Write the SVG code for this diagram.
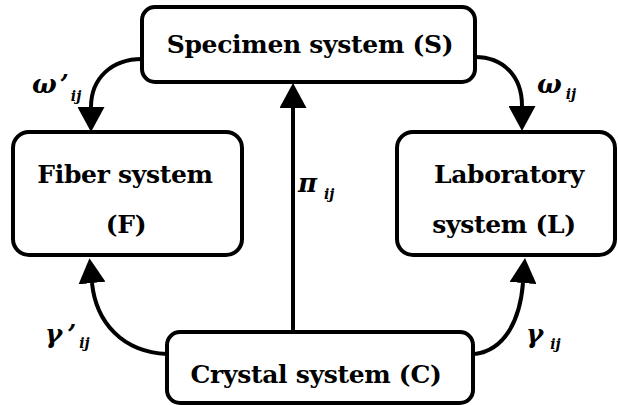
<svg xmlns="http://www.w3.org/2000/svg" width="618" height="405" viewBox="0 0 618 405" font-family="DejaVu Serif, serif">
<style>
.box{fill:#ffffff;stroke:#000;stroke-width:4}
.t{font-weight:bold;font-size:25px;letter-spacing:-0.3px;fill:#000;text-anchor:middle}
.g{font-weight:bold;font-style:italic;font-size:26px;fill:#000}
.s{font-size:14px}
.c{fill:none;stroke:#000;stroke-width:4}
</style>
<defs>
<marker id="ah" viewBox="0 0 25 27" refX="0" refY="13.5" markerWidth="25" markerHeight="27" markerUnits="userSpaceOnUse" orient="auto">
<path d="M0,0 L25,13.5 L0,27 z" fill="#000"/>
</marker>
</defs>
<rect width="618" height="405" fill="#fff"/>
<g id="connectors">
<path class="c" d="M142,59 C112,59 91,78 91,107" marker-end="url(#ah)"/>
<path class="c" d="M475,57 C503,57 522,76 522,106" marker-end="url(#ah)"/>
<path class="c" d="M167,354 C122,352 96,322 92,283" marker-end="url(#ah)"/>
<path class="c" d="M475,354 C505,350 520,320 523,283" marker-end="url(#ah)"/>
<path class="c" d="M293,332 L293,108" marker-end="url(#ah)"/>
</g>
<g id="specimen">
<rect class="box" x="142" y="7" width="333" height="75" rx="13"/>
<text class="t" x="310" y="53">Specimen system (S)</text>
</g>
<g id="fiber">
<rect class="box" x="13" y="132" width="229" height="123" rx="16"/>
<text class="t" x="125" y="183">Fiber system</text>
<text class="t" x="126" y="233">(F)</text>
</g>
<g id="laboratory">
<rect class="box" x="397" y="132" width="218" height="123" rx="16"/>
<text class="t" x="509" y="183">Laboratory</text>
<text class="t" x="504" y="233">system (L)</text>
</g>
<g id="crystal">
<rect class="box" x="167" y="332" width="306" height="71" rx="13"/>
<text class="t" x="316" y="383">Crystal system (C)</text>
</g>
<g id="labels">
<text class="g" x="32" y="93">ω<tspan dx="3">’</tspan><tspan class="s" dx="2" dy="8">ij</tspan></text>
<text class="g" x="537" y="93">ω<tspan class="s" dx="4" dy="6">ij</tspan></text>
<text class="g" x="298" y="192">π<tspan class="s" dx="7" dy="7">ij</tspan></text>
<text class="g" x="45" y="343">γ<tspan dx="5">’</tspan><tspan class="s" dx="3" dy="5">ij</tspan></text>
<text class="g" x="526" y="343">γ<tspan class="s" dx="7" dy="6">ij</tspan></text>
</g>
</svg>
